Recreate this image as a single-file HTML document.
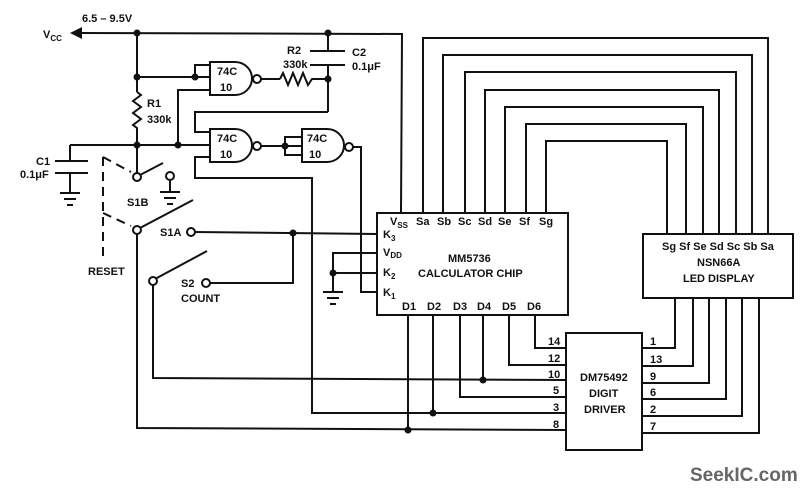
<!DOCTYPE html>
<html><head><meta charset="utf-8"><style>
html,body{margin:0;padding:0;background:#fff;}
svg{display:block;}
text{font-family:"Liberation Sans",sans-serif;font-weight:bold;fill:#111;font-size:11px;}
</style></head><body>
<svg width="810" height="490" viewBox="0 0 810 490" xmlns="http://www.w3.org/2000/svg">
<g stroke="#111" stroke-width="2" fill="none">
<!-- Vcc line -->
<polyline points="80,33 402,34 401,213"/>
<line x1="137" y1="33" x2="137" y2="92"/>
<polyline points="137,92 141,95 133,101 141,107 133,113 141,119 133,125 137,128 137,145"/>
<line x1="137" y1="77" x2="210" y2="77"/>
<polyline points="195,77 195,65 210,65"/>
<polyline points="178,145 178,90 210,90"/>
<!-- gate1 -->
<path d="M210,62 H235 A17,16.5 0 0 1 235,95 H210 Z"/>
<circle cx="257" cy="79" r="4" fill="#fff"/>
<line x1="261" y1="79" x2="280" y2="79"/>
<polyline points="280,79 283,73 288,85 293,73 298,85 303,73 308,85 312,79 328,79"/>
<!-- C2 -->
<line x1="328" y1="33" x2="328" y2="51"/>
<line x1="310" y1="51" x2="345" y2="51"/>
<line x1="310" y1="65" x2="345" y2="65"/>
<line x1="328" y1="65" x2="328" y2="112"/>
<polyline points="328,112 195,112 195,132 210,132"/>
<!-- gate2 -->
<line x1="70" y1="145" x2="210" y2="145"/>
<path d="M210,129 H235 A17,16.5 0 0 1 235,162 H210 Z"/>
<polyline points="210,157 195,157 195,178 312,178 312,413 566,413"/>
<circle cx="257" cy="146" r="4" fill="#fff"/>
<line x1="261" y1="146" x2="302" y2="146"/>
<polyline points="302,137 285,137 285,155 302,155"/>
<!-- gate3 -->
<path d="M302,129 H327 A17,16.5 0 0 1 327,162 H302 Z"/>
<circle cx="349" cy="147" r="4" fill="#fff"/>
<polyline points="353,147 361,147 361,292 377,292"/>
<!-- C1 -->
<polyline points="70,145 70,161"/>
<line x1="55" y1="161" x2="88" y2="161"/>
<line x1="55" y1="173" x2="88" y2="173"/>
<line x1="70" y1="173" x2="70" y2="193"/>
<line x1="60" y1="193" x2="80" y2="193"/>
<line x1="64" y1="199" x2="76" y2="199"/>
<line x1="67" y1="205" x2="73" y2="205"/>
<!-- S1B -->
<line x1="137" y1="145" x2="137" y2="173"/>
<line x1="140" y1="175" x2="163" y2="163"/>
<line x1="170" y1="180" x2="170" y2="192"/>
<line x1="160" y1="192" x2="180" y2="192"/>
<line x1="164" y1="198" x2="176" y2="198"/>
<line x1="167" y1="204" x2="173" y2="204"/>
<!-- S1A -->
<line x1="140" y1="228" x2="193" y2="200"/>
<polyline points="137,234 137,428 566,430"/>
<polyline points="195,232 377,234"/>
<polyline points="293,233 293,283 210,283"/>
<!-- S2 -->
<line x1="155" y1="279" x2="207" y2="251"/>
<polyline points="153,285 153,378 566,380"/>
<!-- dashed -->
<g stroke-dasharray="9,6">
<line x1="103" y1="157" x2="103" y2="260"/>
<line x1="103" y1="157" x2="131" y2="172"/>
<line x1="103" y1="213" x2="131" y2="226"/>
</g>
<!-- chip -->
<rect x="377" y="213" width="191" height="102"/>
<polyline points="377,253 333,253 333,292"/>
<line x1="333" y1="273" x2="377" y2="273"/>
<line x1="323" y1="292" x2="343" y2="292"/>
<line x1="327" y1="298" x2="339" y2="298"/>
<line x1="330" y1="304" x2="336" y2="304"/>
<!-- segments -->
<polyline points="423,213 423,38 768,38 768,234"/>
<polyline points="443,213 443,55 752,55 752,234"/>
<polyline points="465,213 465,72 736,72 736,234"/>
<polyline points="485,213 485,90 719,90 719,234"/>
<polyline points="505,213 505,107 703,107 703,234"/>
<polyline points="526,213 526,124 686,124 686,234"/>
<polyline points="546,213 546,141 667,141 667,234"/>
<rect x="643" y="234" width="150" height="64"/>
<!-- D lines -->
<line x1="408" y1="315" x2="408" y2="430"/>
<line x1="433" y1="315" x2="433" y2="413"/>
<polyline points="460,315 460,397 566,397"/>
<line x1="483" y1="315" x2="483" y2="380"/>
<polyline points="509,315 509,365 566,365"/>
<polyline points="535,315 535,348 566,348"/>
<rect x="566" y="333" width="76" height="117"/>
<polyline points="642,348 675,348 675,298"/>
<polyline points="642,366 693,366 693,298"/>
<polyline points="642,383 709,383 709,298"/>
<polyline points="642,399 726,399 726,298"/>
<polyline points="642,416 742,416 742,298"/>
<polyline points="642,433 759,433 759,298"/>
</g>
<polygon points="70,33 82,27 82,39" fill="#111"/>
<g fill="#fff" stroke="#111" stroke-width="2">
<circle cx="137" cy="177" r="4"/>
<circle cx="170" cy="176" r="4"/>
<circle cx="137" cy="230" r="4"/>
<circle cx="191" cy="232" r="4"/>
<circle cx="153" cy="281" r="4"/>
<circle cx="206" cy="283" r="4"/>
</g>
<g fill="#111">
<circle cx="137" cy="33" r="3.5"/><circle cx="328" cy="33" r="3.5"/>
<circle cx="137" cy="77" r="3.5"/><circle cx="195" cy="77" r="3.5"/>
<circle cx="328" cy="79" r="3.5"/><circle cx="137" cy="145" r="3.5"/>
<circle cx="178" cy="145" r="3.5"/><circle cx="285" cy="146" r="3.5"/>
<circle cx="293" cy="233" r="3.5"/><circle cx="333" cy="273" r="3.5"/>
<circle cx="483" cy="380" r="3.5"/><circle cx="433" cy="413" r="3.5"/>
<circle cx="408" cy="430" r="3.5"/>
</g>
<text x="43" y="38">V<tspan font-size="8" dy="3">CC</tspan></text>
<text x="82" y="22">6.5 – 9.5V</text>
<text x="217" y="75">74C</text><text x="220" y="91">10</text>
<text x="217" y="142">74C</text><text x="220" y="158">10</text>
<text x="307" y="142">74C</text><text x="309" y="158">10</text>
<text x="287" y="54">R2</text><text x="283" y="68">330k</text>
<text x="352" y="56">C2</text><text x="352" y="70">0.1μF</text>
<text x="147" y="107">R1</text><text x="147" y="123">330k</text>
<text x="36" y="165">C1</text><text x="20" y="178">0.1μF</text>
<text x="127" y="206">S1B</text>
<text x="160" y="236">S1A</text>
<text x="88" y="275">RESET</text>
<text x="181" y="287">S2</text><text x="181" y="302">COUNT</text>
<text x="390" y="225">V<tspan font-size="8" dy="3">SS</tspan></text>
<text x="416" y="225">Sa</text><text x="437" y="225">Sb</text><text x="458" y="225">Sc</text>
<text x="478" y="225">Sd</text><text x="498" y="225">Se</text><text x="519" y="225">Sf</text><text x="539" y="225">Sg</text>
<text x="383" y="238">K<tspan font-size="8" dy="3">3</tspan></text>
<text x="383" y="256">V<tspan font-size="8" dy="2">DD</tspan></text>
<text x="383" y="276">K<tspan font-size="8" dy="3">2</tspan></text>
<text x="383" y="296">K<tspan font-size="8" dy="3">1</tspan></text>
<text x="448" y="262">MM5736</text>
<text x="418" y="277">CALCULATOR CHIP</text>
<text x="402" y="310">D1</text><text x="427" y="310">D2</text><text x="453" y="310">D3</text>
<text x="477" y="310">D4</text><text x="502" y="310">D5</text><text x="527" y="310">D6</text>
<text x="662" y="250">Sg Sf Se Sd Sc Sb Sa</text>
<text x="697" y="266">NSN66A</text>
<text x="683" y="282">LED DISPLAY</text>
<text x="580" y="381">DM75492</text>
<text x="589" y="397">DIGIT</text>
<text x="584" y="413">DRIVER</text>
<g font-size="10">
<text x="548" y="345">14</text><text x="548" y="362">12</text><text x="548" y="378">10</text>
<text x="553" y="394">5</text><text x="553" y="411">3</text><text x="553" y="428">8</text>
<text x="650" y="345">1</text><text x="650" y="363">13</text><text x="650" y="380">9</text>
<text x="650" y="396">6</text><text x="650" y="413">2</text><text x="650" y="430">7</text>
</g>
<text x="690" y="481" style="fill:#666;font-size:19px">SeekIC.com</text>
</svg>
</body></html>
